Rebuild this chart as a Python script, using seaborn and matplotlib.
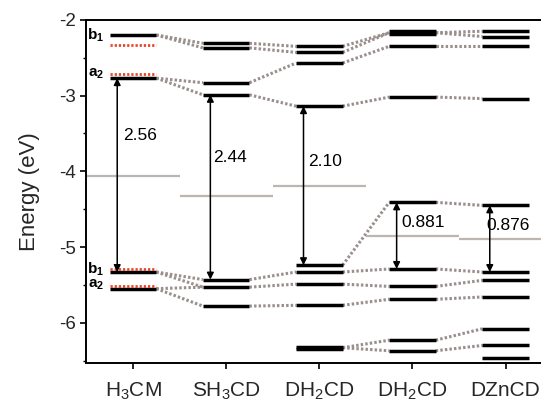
import numpy as np
import pandas as pd
import seaborn as sns
import matplotlib
matplotlib.use("Agg")
import matplotlib.pyplot as plt

# ---------------- data ----------------
categories = ["H$_3$CM", "SH$_3$CD", "DH$_2$CD", "DH$_2$CD", "DZnCD"]

levels_h3cm = [-2.20, -2.77, -5.33, -5.55]
levels_sh3cd = [-2.31, -2.37, -2.83, -2.99, -5.43, -5.53, -5.78]
levels_dh2cd_a = [-2.35, -2.43, -2.57, -3.14, -5.24, -5.33, -5.49, -5.77, -6.32, -6.35]
levels_dh2cd_b = [-2.15, -2.19, -2.35, -3.02, -4.41, -5.29, -5.52, -5.69, -6.23, -6.37]
levels_dzncd = [-2.15, -2.22, -2.35, -3.04, -4.45, -5.33, -5.44, -5.66, -6.08, -6.30, -6.47]
all_levels = [levels_h3cm, levels_sh3cd, levels_dh2cd_a, levels_dh2cd_b, levels_dzncd]

red_levels_h3cm = [-2.33, -2.71, -5.29, -5.51]
red_labels = [r"$\mathbf{b_1}$", r"$\mathbf{a_2}$", r"$\mathbf{b_1}$", r"$\mathbf{a_2}$"]
red_label_y = [-2.20, -2.71, -5.29, -5.50]

midgap = [-4.06, -4.33, -4.20, -4.86, -4.90]

# connections between neighbouring columns: (energy in left column, energy in right column)
links_0_1 = [(-2.20, -2.31), (-2.20, -2.37), (-2.77, -2.83), (-2.77, -2.99),
             (-5.33, -5.43), (-5.33, -5.53), (-5.55, -5.53), (-5.55, -5.78)]
links_1_2 = [(-2.31, -2.35), (-2.37, -2.43), (-2.83, -2.57), (-2.99, -3.14),
             (-5.43, -5.33), (-5.53, -5.49), (-5.78, -5.77)]
links_2_3 = [(-2.35, -2.17), (-2.43, -2.17), (-2.57, -2.35), (-3.14, -3.02),
             (-5.24, -4.41), (-5.33, -5.29), (-5.49, -5.52), (-5.77, -5.69),
             (-6.33, -6.23), (-6.33, -6.37)]
links_3_4 = [(-2.17, -2.15), (-2.17, -2.22), (-2.35, -2.35), (-3.02, -3.04),
             (-4.41, -4.45), (-5.29, -5.33), (-5.52, -5.44), (-5.69, -5.66),
             (-6.23, -6.08), (-6.37, -6.30)]
all_links = [links_0_1, links_1_2, links_2_3, links_3_4]

gap_low = [-5.33, -5.43, -5.24, -5.29, -5.33]
gap_high = [-2.77, -2.99, -3.14, -4.41, -4.45]
gap_labels = ["2.56", "2.44", "2.10", "0.881", "0.876"]

# ---------------- style ----------------
sns.set_theme(style="ticks")
plt.rcParams["font.family"] = ["Liberation Sans", "DejaVu Sans"]
plt.rcParams["mathtext.fontset"] = "custom"
plt.rcParams["mathtext.rm"] = "Liberation Sans"
plt.rcParams["mathtext.it"] = "Liberation Sans:italic"
plt.rcParams["mathtext.bf"] = "Liberation Sans:bold"

fig = plt.figure(figsize=(5.41, 4.05), dpi=100)
ax = fig.add_axes([0.159, 0.104, 0.841, 0.847])

hw = 0.25
x = np.arange(len(categories))

# connectors (grey dotted) drawn via seaborn lineplot
rows = []
uid = 0
for i, links in enumerate(all_links):
    for a, b in links:
        rows.append({"x": i + hw, "y": a, "u": uid})
        rows.append({"x": i + 1 - hw, "y": b, "u": uid})
        uid += 1
df_links = pd.DataFrame(rows)
sns.lineplot(data=df_links, x="x", y="y", units="u", estimator=None, ax=ax,
             color="#9a8f8c", lw=2.2, linestyle=(0, (0.8, 0.7)), sort=False, legend=False)

# mid-gap grey lines
for i, m in enumerate(midgap):
    ax.hlines(m, i - 0.5, i + 0.5, color="#bdb5b0", lw=1.6, zorder=2)

# energy levels
for i, lv in enumerate(all_levels):
    ax.hlines(lv, i - hw, i + hw, color="black", lw=2.5, zorder=3)

# red dotted levels for H3CM
ax.hlines(red_levels_h3cm, -hw, hw, color="#e8462a", lw=2.0,
          linestyles=[(0, (0.8, 0.7))], zorder=3)
for lab, yy in zip(red_labels, red_label_y):
    ax.text(-0.40, yy, lab, ha="center", va="center", fontsize=11, color="black")

# gap arrows and labels
arrow_dx = -0.17
label_pos = [(0.08, -3.53), (1.04, -3.82), (2.06, -3.87), (3.11, -4.68), (4.03, -4.72)]
for i in range(len(categories)):
    ax.annotate("", xy=(i + arrow_dx, gap_high[i]), xytext=(i + arrow_dx, gap_low[i]),
                arrowprops=dict(arrowstyle="<|-|>", color="black", lw=1.1,
                                mutation_scale=10, shrinkA=0, shrinkB=0), zorder=4)
    ax.text(label_pos[i][0], label_pos[i][1], gap_labels[i], ha="center",
            va="center", fontsize=12.5, color="black")

ax.set_xlim(-0.505, 4.38)
ax.set_ylim(-6.53, -2.0)
ax.set_xticks(x)
ax.set_xticklabels(categories, fontsize=15)
ax.set_yticks([-2, -3, -4, -5, -6])
ax.set_yticklabels(["-2", "-3", "-4", "-5", "-6"], fontsize=13.5)
ax.set_yticks([-2.5, -3.5, -4.5, -5.5, -6.5], minor=True)
ax.set_ylabel("Energy (eV)", fontsize=16, labelpad=14)
ax.set_xlabel("")
ax.tick_params(axis="both", which="major", direction="out", length=4, width=1.2, color="black")
ax.tick_params(axis="y", which="minor", direction="out", length=2.5, width=1.0, color="black")
ax.tick_params(axis="x", pad=9)
ax.tick_params(axis="y", pad=3)
for s in ["left", "bottom", "top"]:
    ax.spines[s].set_linewidth(1.4)
    ax.spines[s].set_color("black")
ax.spines["right"].set_visible(False)
ax.set_facecolor("white")

fig.savefig("out.png", dpi=100)
